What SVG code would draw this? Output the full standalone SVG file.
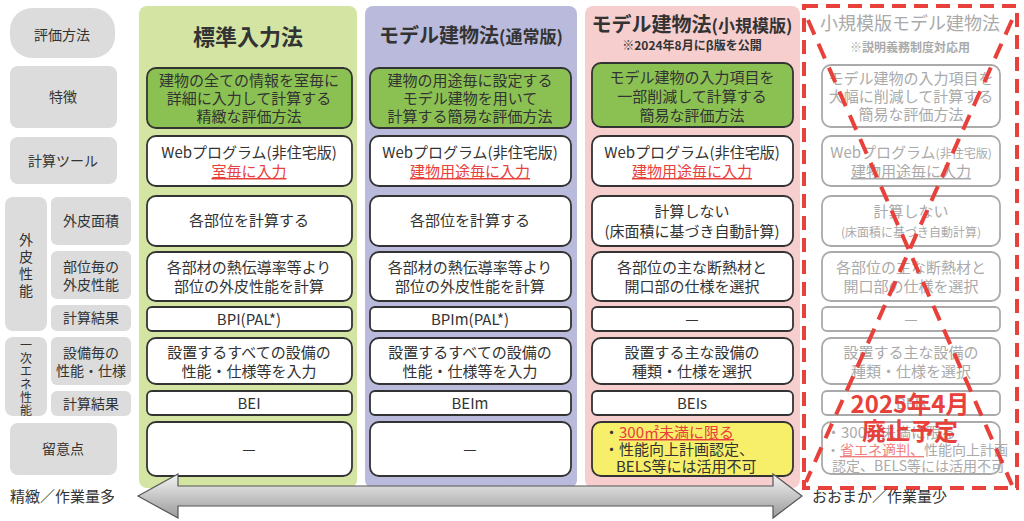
<svg xmlns="http://www.w3.org/2000/svg" width="1024" height="521" viewBox="0 0 1024 521">
<defs>
<style>
text{font-family:"Noto Sans CJK JP","Noto Sans",sans-serif;text-anchor:middle;fill:#333}
.lab{fill:#dcdcdc}
.lt{font-size:14px}
.vt{font-size:12px}
.b{fill:#fff;stroke:#333;stroke-width:1.8}
.g{fill:#8bc153;stroke:#333;stroke-width:1.8}
.y{fill:#f7ee6a;stroke:#333;stroke-width:1.8}
.x{fill:#fff;stroke:#aaa;stroke-width:1.8}
.t{font-size:15px}
.gt{font-size:15px;fill:#aaa}
.red{fill:#e8403a;text-decoration:underline}
.h{font-size:22px;font-weight:bold}
</style>
<linearGradient id="ag" x1="0" y1="0" x2="0" y2="1"><stop offset="0" stop-color="#f4f4f4"/><stop offset="1" stop-color="#9a9a9a"/></linearGradient>
</defs>
<g id="labels">
<rect class="lab" x="10" y="8" width="105" height="50" rx="22"/><text class="lt" x="62" y="40">評価方法</text>
<rect class="lab" x="10" y="66" width="107" height="62" rx="8"/><text class="lt" x="63" y="102">特徴</text>
<rect class="lab" x="10" y="137" width="107" height="47" rx="8"/><text class="lt" x="63" y="166">計算ツール</text>
<rect class="lab" x="5" y="197" width="42" height="134" rx="8"/>
<text class="lt" x="26" y="245">外</text><text class="lt" x="26" y="262">皮</text><text class="lt" x="26" y="279">性</text><text class="lt" x="26" y="296">能</text>
<rect class="lab" x="51" y="197" width="80" height="48" rx="6"/><text class="lt" x="91" y="226">外皮面積</text>
<rect class="lab" x="51" y="251" width="80" height="48" rx="6"/><text class="lt" x="91" y="272">部位毎の</text><text class="lt" x="91" y="290">外皮性能</text>
<rect class="lab" x="51" y="305" width="80" height="26" rx="6"/><text class="lt" x="91" y="323">計算結果</text>
<rect class="lab" x="5" y="337" width="42" height="79" rx="8"/>
<text class="vt" x="26" y="350">一</text><text class="vt" x="26" y="363">次</text><text class="vt" x="26" y="376">エ</text><text class="vt" x="26" y="389">ネ</text><text class="vt" x="26" y="402">性</text><text class="vt" x="26" y="415">能</text>
<rect class="lab" x="51" y="337" width="80" height="48" rx="6"/><text class="lt" x="91" y="358">設備毎の</text><text class="lt" x="91" y="376">性能・仕様</text>
<rect class="lab" x="51" y="391" width="80" height="25" rx="6"/><text class="lt" x="91" y="409">計算結果</text>
<rect class="lab" x="10" y="423" width="107" height="52" rx="8"/><text class="lt" x="63" y="454">留意点</text>
</g>
<g id="col1">
<rect x="139" y="6" width="218" height="482" rx="8" fill="#d3e4a3"/>
<text class="h" x="248" y="45">標準入力法</text>
<rect class="g" x="147" y="68" width="205" height="60" rx="9"/>
<text class="t" x="249" y="86">建物の全ての情報を室毎に</text><text class="t" x="249" y="104">詳細に入力して計算する</text><text class="t" x="249" y="122">精緻な評価方法</text>
<rect class="b" x="147" y="136" width="205" height="50" rx="9"/>
<text class="t" x="249" y="158">Webプログラム(非住宅版)</text><text class="t red" x="249" y="177">室毎に入力</text>
<rect class="b" x="147" y="196" width="205" height="50" rx="9"/><text class="t" x="249" y="226">各部位を計算する</text>
<rect class="b" x="147" y="252" width="205" height="49" rx="9"/><text class="t" x="249" y="273">各部材の熱伝導率等より</text><text class="t" x="249" y="292">部位の外皮性能を計算</text>
<rect class="b" x="147" y="307" width="205" height="24" rx="5"/><text class="t" x="249" y="325">BPI(PAL*)</text>
<rect class="b" x="147" y="338" width="205" height="46" rx="9"/><text class="t" x="249" y="358">設置するすべての設備の</text><text class="t" x="249" y="377">性能・仕様等を入力</text>
<rect class="b" x="147" y="391" width="205" height="24" rx="5"/><text class="t" x="249" y="409">BEI</text>
<rect class="b" x="147" y="422" width="205" height="54" rx="9"/><text class="t" x="249" y="455">—</text>
</g>
<g id="col2">
<rect x="365" y="6" width="212" height="482" rx="8" fill="#b9badc"/>
<text x="471" y="43" style="font-size:20px;font-weight:bold">モデル建物法<tspan style="font-size:17px">(通常版)</tspan></text>
<rect class="g" x="370" y="68" width="201" height="60" rx="9"/>
<text class="t" x="470" y="86">建物の用途毎に設定する</text><text class="t" x="470" y="104">モデル建物を用いて</text><text class="t" x="470" y="122">計算する簡易な評価方法</text>
<rect class="b" x="370" y="136" width="201" height="50" rx="9"/>
<text class="t" x="470" y="158">Webプログラム(非住宅版)</text><text class="t red" x="470" y="177">建物用途毎に入力</text>
<rect class="b" x="370" y="196" width="201" height="50" rx="9"/><text class="t" x="470" y="226">各部位を計算する</text>
<rect class="b" x="370" y="252" width="201" height="49" rx="9"/><text class="t" x="470" y="273">各部材の熱伝導率等より</text><text class="t" x="470" y="292">部位の外皮性能を計算</text>
<rect class="b" x="370" y="307" width="201" height="24" rx="5"/><text class="t" x="470" y="325">BPIm(PAL*)</text>
<rect class="b" x="370" y="338" width="201" height="46" rx="9"/><text class="t" x="470" y="358">設置するすべての設備の</text><text class="t" x="470" y="377">性能・仕様等を入力</text>
<rect class="b" x="370" y="391" width="201" height="24" rx="5"/><text class="t" x="470" y="409">BEIm</text>
<rect class="b" x="370" y="422" width="201" height="54" rx="9"/><text class="t" x="470" y="455">—</text>
</g>
<g id="col3">
<rect x="585" y="6" width="215" height="482" rx="8" fill="#f6cece"/>
<text x="692" y="32" style="font-size:20px;font-weight:bold">モデル建物法<tspan style="font-size:17px">(小規模版)</tspan></text>
<text x="692" y="50" style="font-size:12px;font-weight:bold">※2024年8月にβ版を公開</text>
<rect class="g" x="592" y="63" width="201" height="64" rx="9"/>
<text class="t" x="692" y="83">モデル建物の入力項目を</text><text class="t" x="692" y="102">一部削減して計算する</text><text class="t" x="692" y="121">簡易な評価方法</text>
<rect class="b" x="592" y="136" width="201" height="50" rx="9"/>
<text class="t" x="692" y="158">Webプログラム(非住宅版)</text><text class="t red" x="692" y="177">建物用途毎に入力</text>
<rect class="b" x="592" y="196" width="201" height="50" rx="9"/><text class="t" x="692" y="217">計算しない</text><text class="t" x="692" y="237">(床面積に基づき自動計算)</text>
<rect class="b" x="592" y="252" width="201" height="49" rx="9"/><text class="t" x="692" y="273">各部位の主な断熱材と</text><text class="t" x="692" y="292">開口部の仕様を選択</text>
<rect class="b" x="592" y="307" width="201" height="24" rx="5"/><text class="t" x="692" y="325">—</text>
<rect class="b" x="592" y="338" width="201" height="46" rx="9"/><text class="t" x="692" y="358">設置する主な設備の</text><text class="t" x="692" y="377">種類・仕様を選択</text>
<rect class="b" x="592" y="391" width="201" height="24" rx="5"/><text class="t" x="692" y="409">BEIs</text>
<rect class="y" x="592" y="422" width="201" height="54" rx="9"/>
<text class="t" x="604" y="438" style="text-anchor:start">・<tspan class="red">300㎡未満に限る</tspan></text>
<text class="t" x="604" y="455" style="text-anchor:start">・性能向上計画認定、</text>
<text class="t" x="616" y="472" style="text-anchor:start">BELS等には活用不可</text>
</g>
<g id="col4">
<text x="910" y="30" style="font-size:18px;fill:#aaa">小規模版モデル建物法</text>
<text x="910" y="52" style="font-size:12px;font-weight:bold;fill:#aaa">※説明義務制度対応用</text>
<rect class="x" x="822" y="65" width="178" height="62" rx="9"/>
<text class="gt" x="911" y="84">モデル建物の入力項目を</text><text class="gt" x="911" y="102">大幅に削減して計算する</text><text class="gt" x="911" y="120">簡易な評価方法</text>
<rect class="x" x="822" y="136" width="178" height="50" rx="9"/>
<text class="gt" x="911" y="158">Webプログラム<tspan style="font-size:12px">(非住宅版)</tspan></text><text class="gt" x="911" y="177" style="text-decoration:underline">建物用途毎に入力</text>
<rect class="x" x="822" y="196" width="178" height="50" rx="9"/><text class="gt" x="911" y="217">計算しない</text><text class="gt" x="911" y="237" style="font-size:12px">(床面積に基づき自動計算)</text>
<rect class="x" x="822" y="252" width="178" height="49" rx="9"/><text class="gt" x="911" y="273">各部位の主な断熱材と</text><text class="gt" x="911" y="292">開口部の仕様を選択</text>
<rect class="x" x="822" y="307" width="178" height="24" rx="5"/><text class="gt" x="911" y="325">—</text>
<rect class="x" x="822" y="338" width="178" height="46" rx="9"/><text class="gt" x="911" y="358">設置する主な設備の</text><text class="gt" x="911" y="377">種類・仕様を選択</text>
<rect class="x" x="822" y="391" width="178" height="24" rx="5"/><text class="gt" x="911" y="409">BEIs</text>
<rect class="x" x="822" y="422" width="178" height="52" rx="9"/>
<text class="gt" x="826" y="438" style="text-anchor:start">・300㎡未満に限る</text>
<text class="gt" x="826" y="455" style="text-anchor:start;font-size:14px">・<tspan style="fill:#ee8080;text-decoration:underline">省エネ適判、</tspan>性能向上計画</text>
<text class="gt" x="832" y="471" style="text-anchor:start;font-size:14px">認定、BELS等には活用不可</text>
<rect x="804" y="6" width="213" height="482" fill="none" stroke="#e8403a" stroke-width="4" stroke-dasharray="14 8"/>
<line x1="808" y1="20" x2="1012" y2="485" stroke="#e8403a" stroke-width="4" stroke-dasharray="16 10"/>
<line x1="1012" y1="20" x2="806" y2="482" stroke="#e8403a" stroke-width="4" stroke-dasharray="16 10"/>
<text x="910" y="413" style="font-size:24px;font-weight:bold;fill:#e8403a">2025年4月</text>
<text x="910" y="440" style="font-size:24px;font-weight:bold;fill:#e8403a">廃止予定</text>
</g>
<g id="connectors">
<path d="M138,496 L178,474 L178,486 L773,486 L773,474 L802,496 L773,518 L773,506 L178,506 L178,518 Z" fill="url(#ag)" stroke="#555" stroke-width="1.2"/>
</g>
<text x="10" y="502" style="font-size:15px;text-anchor:start">精緻／作業量多</text>
<text x="812" y="502" style="font-size:15px;text-anchor:start">おおまか／作業量少</text>
</svg>
